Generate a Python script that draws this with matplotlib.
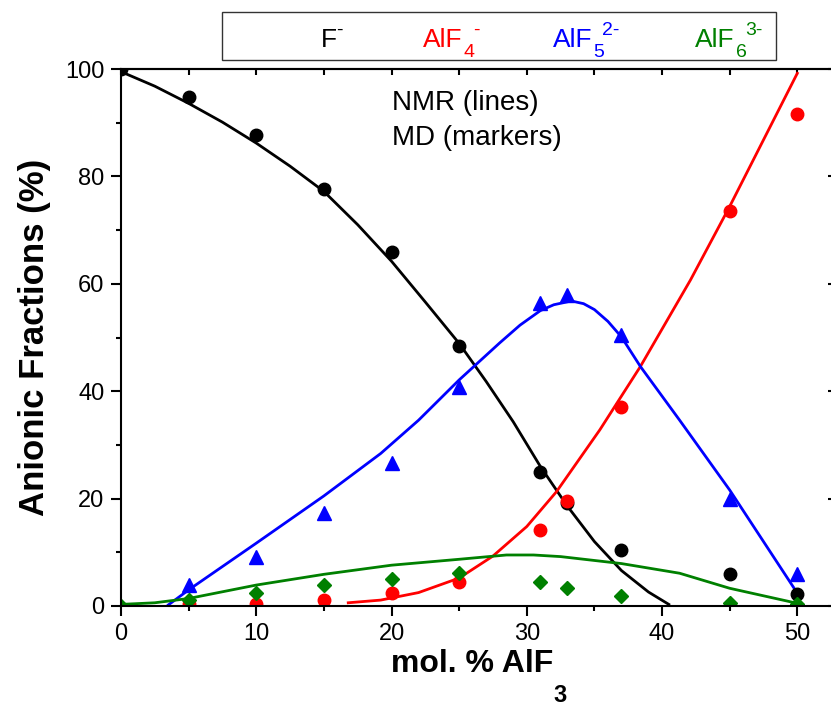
import matplotlib
matplotlib.use('Agg')
import matplotlib.pyplot as plt
from matplotlib.patches import Rectangle
from matplotlib.ticker import MultipleLocator

plt.rcParams['font.family'] = ['Liberation Sans', 'DejaVu Sans']

# MD results (markers)
f_md_x = [0, 5, 10, 15, 20, 25, 31, 33, 37, 45, 50]
f_md_y = [100, 94.7, 87.8, 77.6, 65.9, 48.5, 24.9, 19.1, 10.4, 6.0, 2.3]
alf4_md_x = [5, 10, 15, 20, 25, 31, 33, 37, 45, 50]
alf4_md_y = [0.3, 0.4, 1.1, 2.4, 4.4, 14.2, 19.6, 37.0, 73.6, 91.7]
alf5_md_x = [5, 10, 15, 20, 25, 31, 33, 37, 45, 50]
alf5_md_y = [3.9, 9.2, 17.3, 26.6, 40.7, 56.4, 58.0, 50.5, 19.9, 6.0]
alf6_md_x = [0, 5, 10, 15, 20, 25, 31, 33, 37, 45, 50]
alf6_md_y = [0, 1.2, 2.4, 3.9, 5.0, 6.2, 4.4, 3.4, 1.9, 0.6, 0.3]

# NMR results (lines)
f_nmr_x = [0, 2.5, 5, 7.5, 10, 12.5, 15, 17.5, 20, 22.5, 25, 27, 29, 31, 33, 35, 37, 39, 40.5]
f_nmr_y = [99.5, 96.8, 93.6, 90.1, 86.2, 81.9, 77.2, 71.0, 64.2, 56.6, 48.9, 41.8, 34.3, 26.0, 18.6, 12.0, 6.6, 2.6, 0.3]
alf4_nmr_x = [16.8, 19.2, 22, 25, 27.5, 30, 32.2, 35.4, 38.4, 42.1, 45, 47.5, 50]
alf4_nmr_y = [0.6, 1.1, 2.5, 5.2, 9.3, 14.8, 21.3, 32.8, 44.6, 60.7, 74.4, 86.8, 99.2]
alf5_nmr_x = [3.5, 5, 10, 15, 19.2, 22, 25, 28, 29.5, 31, 32, 33.3, 34.2, 35, 36, 37, 38.4, 41.3, 45, 50]
alf5_nmr_y = [0.2, 3.0, 11.7, 20.5, 28.4, 34.6, 42.1, 49.0, 52.3, 55.0, 56.1, 56.8, 56.3, 55.2, 53.0, 50.1, 44.6, 34.6, 21.6, 2.4]
alf6_nmr_x = [0, 2.5, 5, 10, 15, 20, 25, 28.5, 30.5, 32.5, 37, 41.3, 45, 50]
alf6_nmr_y = [0.3, 0.6, 1.4, 3.9, 5.9, 7.6, 8.7, 9.5, 9.5, 9.2, 7.9, 6.1, 3.3, 0.5]

W, H = 831, 707
fig = plt.figure(figsize=(W / 100, H / 100), dpi=100)
ax = fig.add_axes([121 / W, 101 / H, 717 / W, 537 / H])

lw = 2
ax.plot(f_nmr_x, f_nmr_y, color='black', lw=lw)
ax.plot(alf4_nmr_x, alf4_nmr_y, color='red', lw=lw)
ax.plot(alf5_nmr_x, alf5_nmr_y, color='blue', lw=lw)
ax.plot(alf6_nmr_x, alf6_nmr_y, color='green', lw=lw)

ax.plot(f_md_x, f_md_y, 'o', color='black', ms=9, ls='none')
ax.plot(alf4_md_x, alf4_md_y, 'o', color='red', ms=9, ls='none')
ax.plot(alf5_md_x, alf5_md_y, '^', color='blue', ms=10.5, ls='none')
ax.plot(alf6_md_x, alf6_md_y, 'D', color='green', ms=7.5, ls='none')

ax.set_xlim(0, 717 / 13.526)
ax.set_ylim(0, 100)
ax.xaxis.set_major_locator(MultipleLocator(10))
ax.xaxis.set_minor_locator(MultipleLocator(5))
ax.yaxis.set_major_locator(MultipleLocator(20))
ax.yaxis.set_minor_locator(MultipleLocator(10))

for s in ax.spines.values():
    s.set_linewidth(1.5)
ax.tick_params(which='major', direction='out', length=7, width=1.5, labelsize=17, pad=5)
ax.tick_params(which='minor', direction='out', length=3.5, width=1.5)

top = ax.secondary_xaxis('top')
top.xaxis.set_major_locator(MultipleLocator(5))
top.tick_params(direction='in', length=4, width=1.5, labeltop=False)
top.spines['top'].set_linewidth(1.5)
right = ax.secondary_yaxis('right')
right.yaxis.set_major_locator(MultipleLocator(20))
right.yaxis.set_minor_locator(MultipleLocator(10))
right.tick_params(which='major', direction='in', length=7, width=1.5, labelright=False)
right.tick_params(which='minor', direction='in', length=3.5, width=1.5, labelright=False)
right.spines['right'].set_linewidth(1.5)

ax.set_ylabel('Anionic Fractions (%)', fontsize=25, fontweight='bold', labelpad=10)

ax.text(0.378, 0.9236, 'NMR (lines)', transform=ax.transAxes, fontsize=20, va='baseline')
ax.text(0.378, 0.858, 'MD (markers)', transform=ax.transAxes, fontsize=20, va='baseline')


def px(x, y):
    return x / W, 1 - y / H


# x axis title with a low subscript
fig.text(*px(391, 672), 'mol. % AlF', fontsize=23, fontweight='bold', va='baseline')
fig.text(*px(553, 702), '3', fontsize=17, fontweight='bold', va='baseline')

# legend box with ion names
fig.add_artist(Rectangle((222 / W, 1 - 60 / H), 554 / W, 48 / H, transform=fig.transFigure,
                         fill=False, edgecolor='#333333', lw=1))

labels = [('F', '', '-', 'black', 321, None, 336),
          ('AlF', '4', '-', 'red', 423, 463, 473),
          ('AlF', '5', '2-', 'blue', 553, 593, 602),
          ('AlF', '6', '3-', 'green', 695, 736, 745)]
for base, sub, sup, col, xb, xs, xp in labels:
    fig.text(*px(xb, 47), base, color=col, fontsize=19, va='baseline')
    if sub:
        fig.text(*px(xs, 57), sub, color=col, fontsize=14, va='baseline')
    fig.text(*px(xp, 35), sup, color=col, fontsize=14, va='baseline')

fig.savefig('out.png', dpi=100)
